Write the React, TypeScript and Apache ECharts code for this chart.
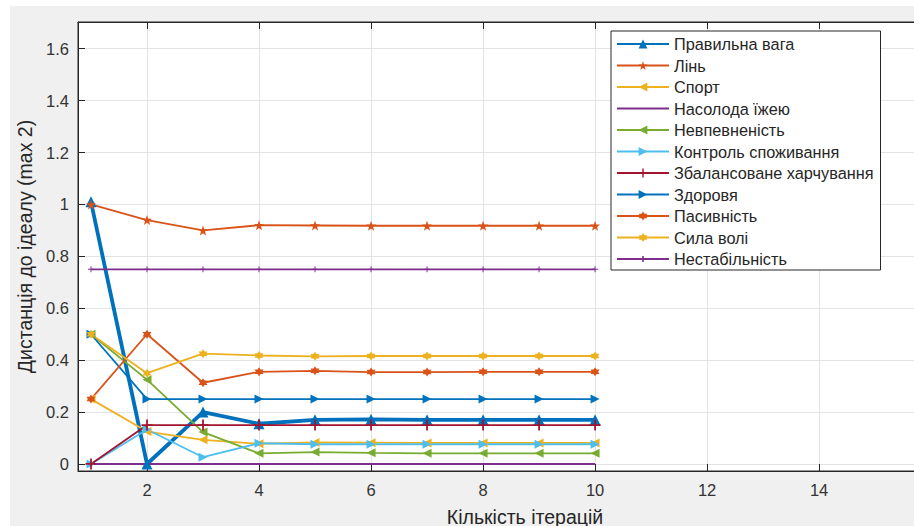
import React, { useEffect, useRef } from 'react';
import * as echarts from 'echarts';

const iterations = [1, 2, 3, 4, 5, 6, 7, 8, 9, 10];
const seriesNames = [
  'Правильна вага',
  'Лінь',
  'Спорт',
  'Насолода їжею',
  'Невпевненість',
  'Контроль споживання',
  'Збалансоване харчування',
  'Здоровя',
  'Пасивність',
  'Сила волі',
  'Нестабільність',
];
const pravylnaVaha = [1.01, 0, 0.2, 0.155, 0.17, 0.172, 0.17, 0.17, 0.17, 0.17];
const lin = [1.0, 0.94, 0.9, 0.92, 0.919, 0.918, 0.918, 0.918, 0.918, 0.918];
const sport = [0.25, 0.125, 0.093, 0.078, 0.083, 0.082, 0.081, 0.081, 0.081, 0.081];
const nasolodaIzheyu = [0, 0, 0, 0, 0, 0, 0, 0, 0, 0];
const nevpevnenist = [0.5, 0.325, 0.123, 0.041, 0.046, 0.043, 0.041, 0.041, 0.041, 0.041];
const kontrol = [0, 0.133, 0.026, 0.08, 0.076, 0.076, 0.076, 0.076, 0.076, 0.076];
const zbalansovane = [0, 0.15, 0.15, 0.15, 0.15, 0.15, 0.15, 0.15, 0.15, 0.15];
const zdorovya = [0.5, 0.25, 0.25, 0.25, 0.25, 0.25, 0.25, 0.25, 0.25, 0.25];
const pasyvnist = [0.25, 0.5, 0.313, 0.355, 0.359, 0.354, 0.354, 0.355, 0.355, 0.355];
const sylaVoli = [0.5, 0.35, 0.425, 0.418, 0.415, 0.416, 0.416, 0.416, 0.416, 0.416];
const nestabilnist = [0.75, 0.75, 0.75, 0.75, 0.75, 0.75, 0.75, 0.75, 0.75, 0.75];
const xTicks = [2, 4, 6, 8, 10, 12, 14];
const yTicks = [0, 0.2, 0.4, 0.6, 0.8, 1, 1.2, 1.4, 1.6];

const seriesValues = [
  pravylnaVaha, lin, sport, nasolodaIzheyu, nevpevnenist, kontrol,
  zbalansovane, zdorovya, pasyvnist, sylaVoli, nestabilnist,
];

const STAR = 'path://M10,0 L12.35,6.76 L19.51,6.91 L13.8,11.24 L15.88,18.09 L10,14 L4.12,18.09 L6.2,11.24 L0.49,6.91 L7.65,6.76 Z';
const HEX = 'path://M10,0 L12.89,5 L18.66,5 L15.77,10 L18.66,15 L12.89,15 L10,20 L7.11,15 L1.34,15 L4.23,10 L1.34,5 L7.11,5 Z';
const LEFT = 'path://M10,0 L10,10 L0,5 Z';
const RIGHT = 'path://M0,0 L10,5 L0,10 Z';
const PLUS = 'path://M4.2,0 L5.8,0 L5.8,4.2 L10,4.2 L10,5.8 L5.8,5.8 L5.8,10 L4.2,10 L4.2,5.8 L0,5.8 L0,4.2 L4.2,4.2 Z';
const CORNERS = 'M0,0 L0.01,0 L0.01,0.01 Z M52,11 L51.99,11 L51.99,10.99 Z ';
const LEGEND_LINE = 'path://' + CORNERS + 'M0,4.6 L52,4.6 L52,6.4 L0,6.4 Z';
const LEGEND_LINE_TICK = 'path://' + CORNERS + 'M0,4.6 L52,4.6 L52,6.4 L0,6.4 Z M25.2,2.5 L26.8,2.5 L26.8,8.5 L25.2,8.5 Z';

const styles = [
  { color: '#0072BD', symbol: 'triangle', size: 11, width: 3.8, icon: '' },
  { color: '#D95319', symbol: STAR, size: 10, width: 1.8, icon: '' },
  { color: '#EDB120', symbol: LEFT, size: 9, width: 1.8, icon: '' },
  { color: '#7E2F8E', symbol: 'none', size: 0, width: 1.8, icon: LEGEND_LINE },
  { color: '#77AC30', symbol: LEFT, size: 9, width: 1.8, icon: '' },
  { color: '#4DBEEE', symbol: RIGHT, size: 9, width: 1.8, icon: '' },
  { color: '#A2142F', symbol: PLUS, size: 11, width: 1.8, icon: '' },
  { color: '#0072BD', symbol: RIGHT, size: 9, width: 1.8, icon: '' },
  { color: '#D95319', symbol: HEX, size: 9, width: 1.8, icon: '' },
  { color: '#EDB120', symbol: HEX, size: 9, width: 1.8, icon: '' },
  { color: '#7E2F8E', symbol: PLUS, size: 6, width: 1.8, icon: LEGEND_LINE_TICK },
];

const FONT = '"Liberation Sans", Arial, Helvetica, sans-serif';
const X_MIN = 0.768;
const X_MAX = 16.73;
const Y_MIN = -0.027;
const Y_MAX = 1.703;
const CHART_W = 1000;

export default function App() {
  const ref = useRef<HTMLDivElement>(null);
  useEffect(() => {
    if (!ref.current) return;
    const chart = echarts.init(ref.current, undefined, { renderer: 'svg' });
    const series = seriesNames.map((name, i) => ({
      name,
      type: 'line',
      data: iterations.map((x, j) => [x, seriesValues[i][j]]),
      symbol: styles[i].symbol,
      symbolSize: styles[i].size,
      showSymbol: styles[i].symbol !== 'none',
      lineStyle: { color: styles[i].color, width: styles[i].width },
      itemStyle: { color: styles[i].color },
      clip: false,
      z: 3,
    }));
    const legendData = seriesNames.map((name, i) =>
      styles[i].icon ? { name, icon: styles[i].icon } : { name }
    );
    chart.setOption({
      animation: false,
      backgroundColor: 'transparent',
      grid: {
        left: 78,
        top: 22,
        right: CHART_W - 972,
        bottom: 55,
        show: true,
        backgroundColor: '#ffffff',
        borderColor: '#262626',
        borderWidth: 1,
        containLabel: false,
        outerBoundsMode: 'none',
      },
      legend: {
        orient: 'vertical',
        left: 611,
        top: 31,
        padding: [5, 7, 3, 5],
        itemWidth: 52,
        itemHeight: 11,
        itemGap: 5.5,
        backgroundColor: '#ffffff',
        borderColor: '#262626',
        borderWidth: 1,
        borderRadius: 0,
        textStyle: { fontSize: 16.3, color: '#262626', fontFamily: FONT },
        data: legendData,
        selectedMode: false,
      },
      xAxis: [
        {
          type: 'value',
          min: X_MIN,
          max: X_MAX,
          position: 'bottom',
          axisLine: { show: true, onZero: false, lineStyle: { color: '#262626', width: 1 } },
          axisTick: { show: true, inside: true, length: 7, customValues: xTicks, lineStyle: { color: '#262626' } },
          axisLabel: { customValues: xTicks, color: '#333333', fontSize: 16.5, margin: 10, fontFamily: FONT },
          splitLine: { show: true, lineStyle: { color: '#e3e3e3', width: 1 } },
          name: 'Кількість ітерацій',
          nameLocation: 'middle',
          nameGap: 35.5,
          nameTextStyle: { fontSize: 19.5, color: '#262626', fontFamily: FONT },
        },
        {
          type: 'value',
          min: X_MIN,
          max: X_MAX,
          position: 'top',
          axisLine: { show: true, onZero: false, lineStyle: { color: '#262626', width: 1 } },
          axisTick: { show: true, inside: true, length: 7, customValues: xTicks, lineStyle: { color: '#262626' } },
          axisLabel: { show: false },
          splitLine: { show: false },
        },
      ],
      yAxis: {
        type: 'value',
        min: Y_MIN,
        max: Y_MAX,
        axisLine: { show: true, onZero: false, lineStyle: { color: '#262626', width: 1 } },
        axisTick: { show: true, inside: true, length: 7, customValues: yTicks, lineStyle: { color: '#262626' } },
        axisLabel: { customValues: yTicks, color: '#333333', fontSize: 16.5, margin: 9, fontFamily: FONT },
        splitLine: { show: true, lineStyle: { color: '#e3e3e3', width: 1 } },
        name: 'Дистанція до ідеалу (max 2)',
        nameLocation: 'middle',
        nameGap: 40,
        nameTextStyle: { fontSize: 19.5, color: '#262626', fontFamily: FONT },
      },
      series,
    });
    return () => chart.dispose();
  }, []);
  return (
    <div style={{ position: 'fixed', left: 0, top: 0, width: 914, height: 526, background: '#ffffff', overflow: 'hidden' }}>
      <div style={{ position: 'absolute', left: 10, top: 6, right: 0, bottom: 0, background: '#f0f0f0' }} />
      <div ref={ref} style={{ position: 'absolute', left: 0, top: 0, width: CHART_W, height: 526 }} />
    </div>
  );
}
